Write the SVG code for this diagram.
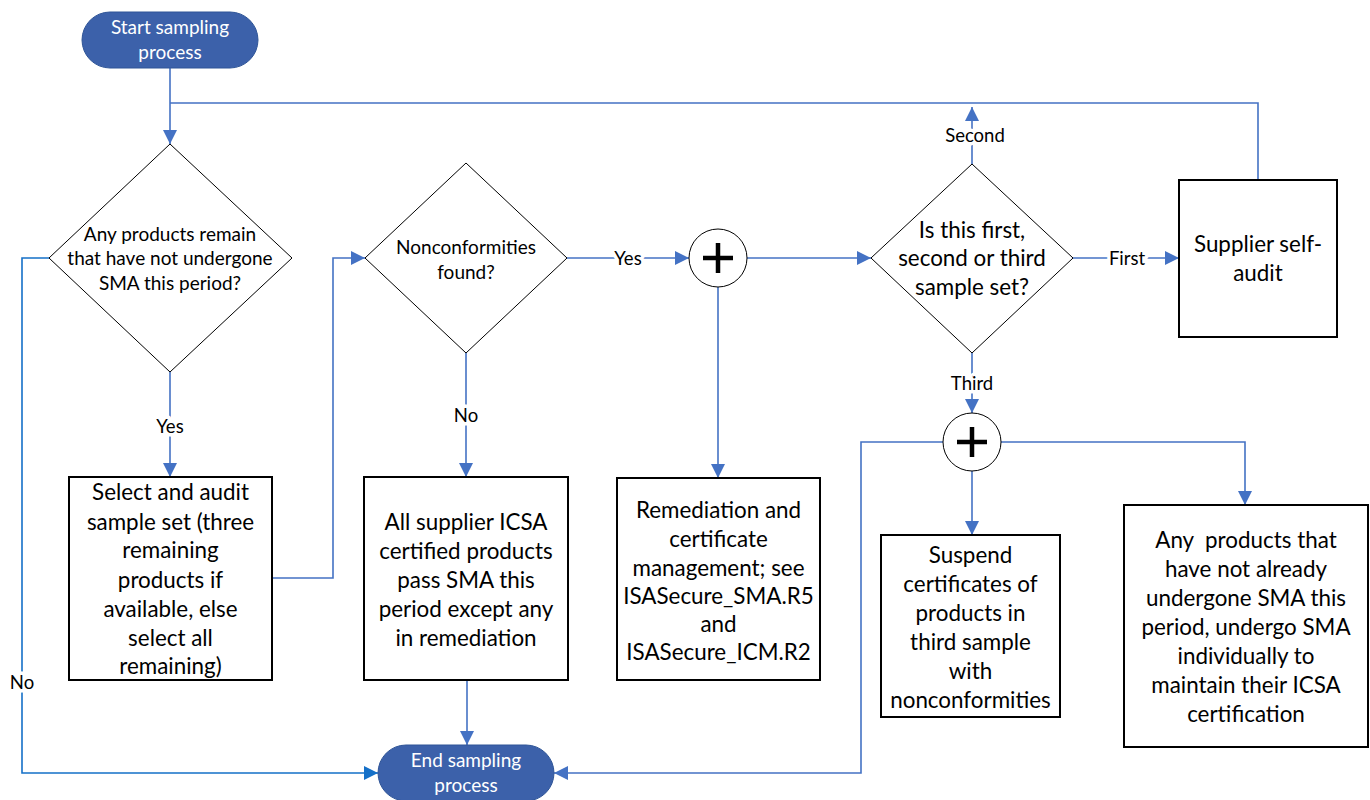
<svg xmlns="http://www.w3.org/2000/svg" width="1370" height="800" viewBox="0 0 1370 800">
<style>
.t{font-family:Lato,"Liberation Sans",sans-serif;fill:#000;text-anchor:middle}
.s{font-size:19px}
.b{font-size:22.4px}
.w{fill:#fff}
.lbl{font-family:Lato,"Liberation Sans",sans-serif;font-size:18.5px;text-anchor:middle;fill:#000;paint-order:stroke;stroke:#fff;stroke-width:7px;stroke-linejoin:round}
.term{fill:#3C61AA;stroke:#2F5597;stroke-width:1}
.box{fill:#fff;stroke:#000;stroke-width:2}
.dia{fill:#fff;stroke:#000;stroke-width:1}
.circ{fill:#fff;stroke:#000;stroke-width:1}
.plus{stroke:#000;stroke-width:4.5;fill:none}
.c{fill:none;stroke:#4472C4;stroke-width:1.6;marker-end:url(#ah)}
.cn{fill:none;stroke:#4472C4;stroke-width:1.6}
.cd{fill:none;stroke:#1570C8;stroke-width:1.6;marker-end:url(#ahd)}
</style>
<defs>
<marker id="ah" markerUnits="userSpaceOnUse" markerWidth="14" markerHeight="14" refX="14" refY="7" orient="auto"><path d="M0,0 L14,7 L0,14 z" fill="#4472C4"/></marker>
<marker id="ahd" markerUnits="userSpaceOnUse" markerWidth="14" markerHeight="14" refX="14" refY="7" orient="auto"><path d="M0,0 L14,7 L0,14 z" fill="#1570C8"/></marker>
</defs>
<rect width="1370" height="800" fill="#fff"/>
<g id="connectors">
<path class="c" d="M170,68 V144"/>
<path class="cn" d="M1258,180 V103 H170"/>
<path class="c" d="M170,372 V477"/>
<path class="cd" d="M49,258 H22 V773 H378"/>
<path class="c" d="M272,578 H333 V258 H365"/>
<path class="c" d="M567,258 H689"/>
<path class="c" d="M466,353 V477"/>
<path class="c" d="M747,258 H871"/>
<path class="c" d="M718,287 V478"/>
<path class="c" d="M1073,258 H1179"/>
<path class="c" d="M972,164 V107"/>
<path class="c" d="M972,353 V413"/>
<path class="c" d="M972,471 V535"/>
<path class="c" d="M1001,442 H1245 V505"/>
<path class="c" d="M943,442 H861 V773 H554"/>
<path class="c" d="M467,680 V745"/>
<text class="lbl" x="170" y="433">Yes</text>
<text class="lbl" x="22" y="689">No</text>
<text class="lbl" x="628" y="265">Yes</text>
<text class="lbl" x="466" y="422">No</text>
<text class="lbl" x="1127" y="265">First</text>
<text class="lbl" x="975" y="142">Second</text>
<text class="lbl" x="972" y="390">Third</text>
</g>
<g id="start">
<rect class="term" x="82" y="12" width="176" height="56" rx="28"/>
<text class="t s w" x="170" y="34">Start sampling</text>
<text class="t s w" x="170" y="59">process</text>
</g>
<g id="end">
<rect class="term" x="378" y="745" width="176" height="56" rx="28"/>
<text class="t s w" x="466" y="767">End sampling</text>
<text class="t s w" x="466" y="792">process</text>
</g>
<g id="d1">
<polygon class="dia" points="170,144 292,258 170,372 49,258"/>
<text class="t s" x="170" y="241">Any products remain</text>
<text class="t s" x="170" y="265">that have not undergone</text>
<text class="t s" x="170" y="290">SMA this period?</text>
</g>
<g id="select">
<rect class="box" x="69" y="477" width="203" height="203"/>
<text class="t b" x="170.5" y="500">Select and audit</text>
<text class="t b" x="170.5" y="530">sample set (three</text>
<text class="t b" x="170.5" y="558">remaining</text>
<text class="t b" x="170.5" y="588">products if</text>
<text class="t b" x="170.5" y="617">available, else</text>
<text class="t b" x="170.5" y="646">select all</text>
<text class="t b" x="170.5" y="674">remaining)</text>
</g>
<g id="d2">
<polygon class="dia" points="466,163 567,258 466,353 365,258"/>
<text class="t s" x="466" y="254">Nonconformities</text>
<text class="t s" x="466" y="279">found?</text>
</g>
<g id="allpass">
<rect class="box" x="364" y="477" width="204" height="203"/>
<text class="t b" x="466" y="530">All supplier ICSA</text>
<text class="t b" x="466" y="559">certified products</text>
<text class="t b" x="466" y="588">pass SMA this</text>
<text class="t b" x="466" y="617">period except any</text>
<text class="t b" x="466" y="646">in remediation</text>
</g>
<g id="join1">
<circle class="circ" cx="718" cy="258" r="29"/>
<path class="plus" d="M703,258 H733 M718,243 V273"/>
</g>
<g id="remediation">
<rect class="box" x="617" y="478" width="203" height="202"/>
<text class="t b" x="718.5" y="518">Remediation and</text>
<text class="t b" x="718.5" y="547">certificate</text>
<text class="t b" x="718.5" y="576">management; see</text>
<text class="t b" x="718.5" y="604">ISASecure_SMA.R5</text>
<text class="t b" x="718.5" y="632">and</text>
<text class="t b" x="718.5" y="660">ISASecure_ICM.R2</text>
</g>
<g id="d3">
<polygon class="dia" points="972,164 1073,258 972,353 871,258"/>
<text class="t b" x="972" y="238">Is this first,</text>
<text class="t b" x="972" y="266">second or third</text>
<text class="t b" x="972" y="295">sample set?</text>
</g>
<g id="selfaudit">
<rect class="box" x="1179" y="180" width="158" height="157"/>
<text class="t b" x="1258" y="252">Supplier self-</text>
<text class="t b" x="1258" y="281">audit</text>
</g>
<g id="join2">
<circle class="circ" cx="972" cy="442" r="29"/>
<path class="plus" d="M957,442 H987 M972,427 V457"/>
</g>
<g id="suspend">
<rect class="box" x="881" y="535" width="179" height="182"/>
<text class="t b" x="970.5" y="563">Suspend</text>
<text class="t b" x="970.5" y="592">certificates of</text>
<text class="t b" x="970.5" y="621">products in</text>
<text class="t b" x="970.5" y="650">third sample</text>
<text class="t b" x="970.5" y="679">with</text>
<text class="t b" x="970.5" y="708">nonconformities</text>
</g>
<g id="individual">
<rect class="box" x="1124" y="505" width="244" height="242"/>
<text class="t b" x="1246" y="548" xml:space="preserve">Any  products that</text>
<text class="t b" x="1246" y="577">have not already</text>
<text class="t b" x="1246" y="606">undergone SMA this</text>
<text class="t b" x="1246" y="635">period, undergo SMA</text>
<text class="t b" x="1246" y="664">individually to</text>
<text class="t b" x="1246" y="693">maintain their ICSA</text>
<text class="t b" x="1246" y="722">certification</text>
</g>
</svg>
